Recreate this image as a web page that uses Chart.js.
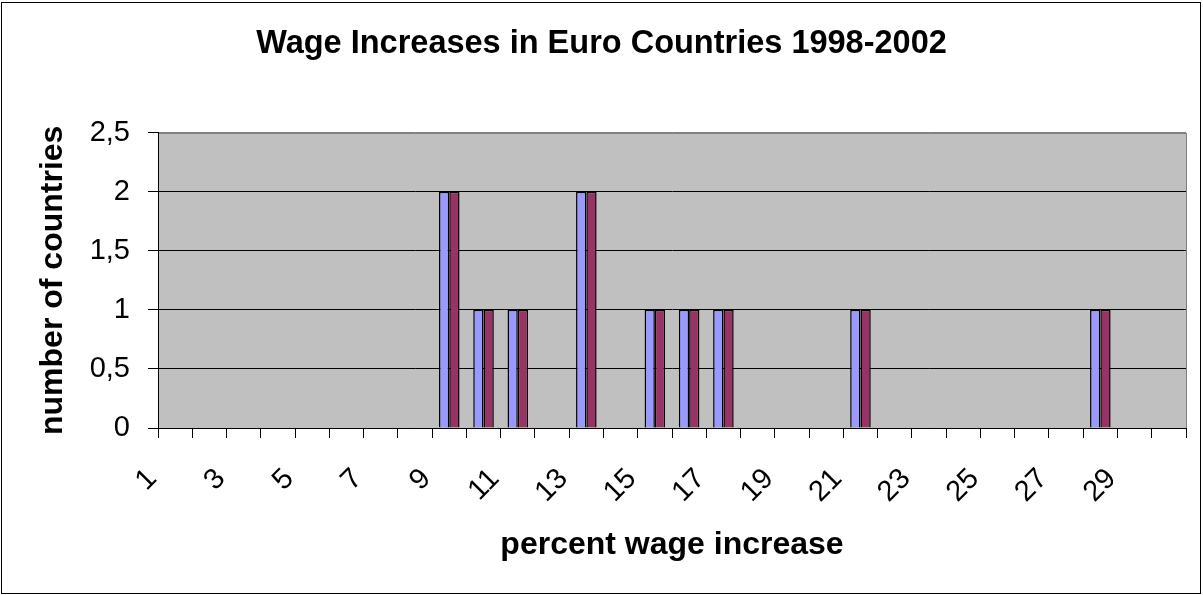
<!DOCTYPE html>
<html>
<head>
<meta charset="utf-8">
<script src="https://cdn.jsdelivr.net/npm/chart.js@4/dist/chart.umd.min.js"></script>
<style>
  html, body { margin: 0; padding: 0; background: #ffffff; }
  #wrap { width: 1203px; height: 595px; }
</style>
</head>
<body>
<div id="wrap"><canvas id="chart-wage-increase" width="1203" height="595"></canvas></div>
<script>
// percent wage increase categories 1..30
const wageLabels = ['1','2','3','4','5','6','7','8','9','10','11','12','13','14','15',
  '16','17','18','19','20','21','22','23','24','25','26','27','28','29','30'];

// number of countries per category (both series show the same counts)
const seriesA = [0,0,0,0,0,0,0,0,2,1,1,0,2,0,1,1,1,0,0,0,1,0,0,0,0,0,0,1,0,0];
const seriesB = [0,0,0,0,0,0,0,0,2,1,1,0,2,0,1,1,1,0,0,0,1,0,0,0,0,0,0,1,0,0];

const yTicks = [0, 0.5, 1, 1.5, 2, 2.5];

const fontFamily = '"Liberation Sans", Arial, sans-serif';

// grey plot area + outer chart border
const plotBackground = {
  id: 'plotBackground',
  beforeDraw(chart) {
    const { ctx, chartArea: a } = chart;
    ctx.save();
    ctx.fillStyle = '#c0c0c0';
    ctx.fillRect(a.left, a.top, a.right - a.left, a.bottom - a.top);
    ctx.strokeStyle = '#808080';
    ctx.lineWidth = 1;
    ctx.strokeRect(Math.round(a.left) + 0.5, Math.round(a.top) + 0.5,
      Math.round(a.right - a.left), Math.round(a.bottom - a.top));
    ctx.restore();
  },
  afterDraw(chart) {
    const ctx = chart.ctx;
    ctx.save();
    ctx.strokeStyle = '#000000';
    ctx.lineWidth = 1;
    ctx.strokeRect(1.5, 2.5, 1199, 591);
    ctx.restore();
  }
};

const ctx = document.getElementById('chart-wage-increase').getContext('2d');
const chartWage = new Chart(ctx, {
  type: 'bar',
  data: {
    labels: wageLabels,
    datasets: [{
      label: 'Series 1',
      data: seriesA,
      backgroundColor: '#9999ff',
      borderColor: '#000000',
      borderWidth: 1.5,
      categoryPercentage: 0.6,
      barPercentage: 1.0
    }, {
      label: 'Series 2',
      data: seriesB,
      backgroundColor: '#993366',
      borderColor: '#000000',
      borderWidth: 1.5,
      categoryPercentage: 0.6,
      barPercentage: 1.0
    }]
  },
  options: {
    responsive: false,
    animation: false,
    layout: { padding: 0 },
    plugins: {
      legend: { display: false },
      tooltip: { enabled: false },
      title: {
        display: true,
        text: 'Wage Increases in Euro Countries 1998-2002',
        color: '#000000',
        font: { family: fontFamily, size: 32.5, weight: 'bold' },
        padding: { top: 25, bottom: 68.6 }
      }
    },
    scales: {
      x: {
        grid: {
          display: true,
          drawOnChartArea: false,
          drawTicks: true,
          tickLength: 10,
          color: '#000000',
          offset: true
        },
        border: { display: true, color: '#000000', width: 1 },
        ticks: {
          autoSkip: false,
          minRotation: 45,
          maxRotation: 45,
          padding: 24,
          labelOffset: -23,
          color: '#000000',
          font: { family: fontFamily, size: 29 },
          callback: function (value, index) {
            return index % 2 === 0 ? wageLabels[index] : '';
          }
        },
        title: {
          display: true,
          text: 'percent wage increase',
          color: '#000000',
          font: { family: fontFamily, size: 32, weight: 'bold' },
          padding: { top: 31, bottom: 31 }
        },
        afterFit: function (scale) {
          scale.height = 167;
          scale.paddingLeft = 0;
          scale.paddingRight = 17;
        }
      },
      y: {
        min: 0,
        max: 2.5,
        afterBuildTicks: function (scale) {
          scale.ticks = yTicks.map(v => ({ value: v }));
        },
        grid: {
          drawOnChartArea: true,
          drawTicks: true,
          tickLength: 10,
          color: c => (c.tick && c.tick.value === 2.5) ? '#808080' : '#000000',
          tickColor: '#000000'
        },
        border: { display: true, color: '#000000', width: 1 },
        ticks: {
          padding: 18,
          color: '#000000',
          font: { family: fontFamily, size: 29 },
          callback: function (value) {
            return String(value).replace('.', ',');
          }
        },
        title: {
          display: true,
          text: 'number of countries',
          color: '#000000',
          font: { family: fontFamily, size: 32, weight: 'bold' },
          padding: { top: 34, bottom: 34 }
        },
        afterFit: function (scale) { scale.width = 158; }
      }
    }
  },
  plugins: [plotBackground]
});
</script>
</body>
</html>
